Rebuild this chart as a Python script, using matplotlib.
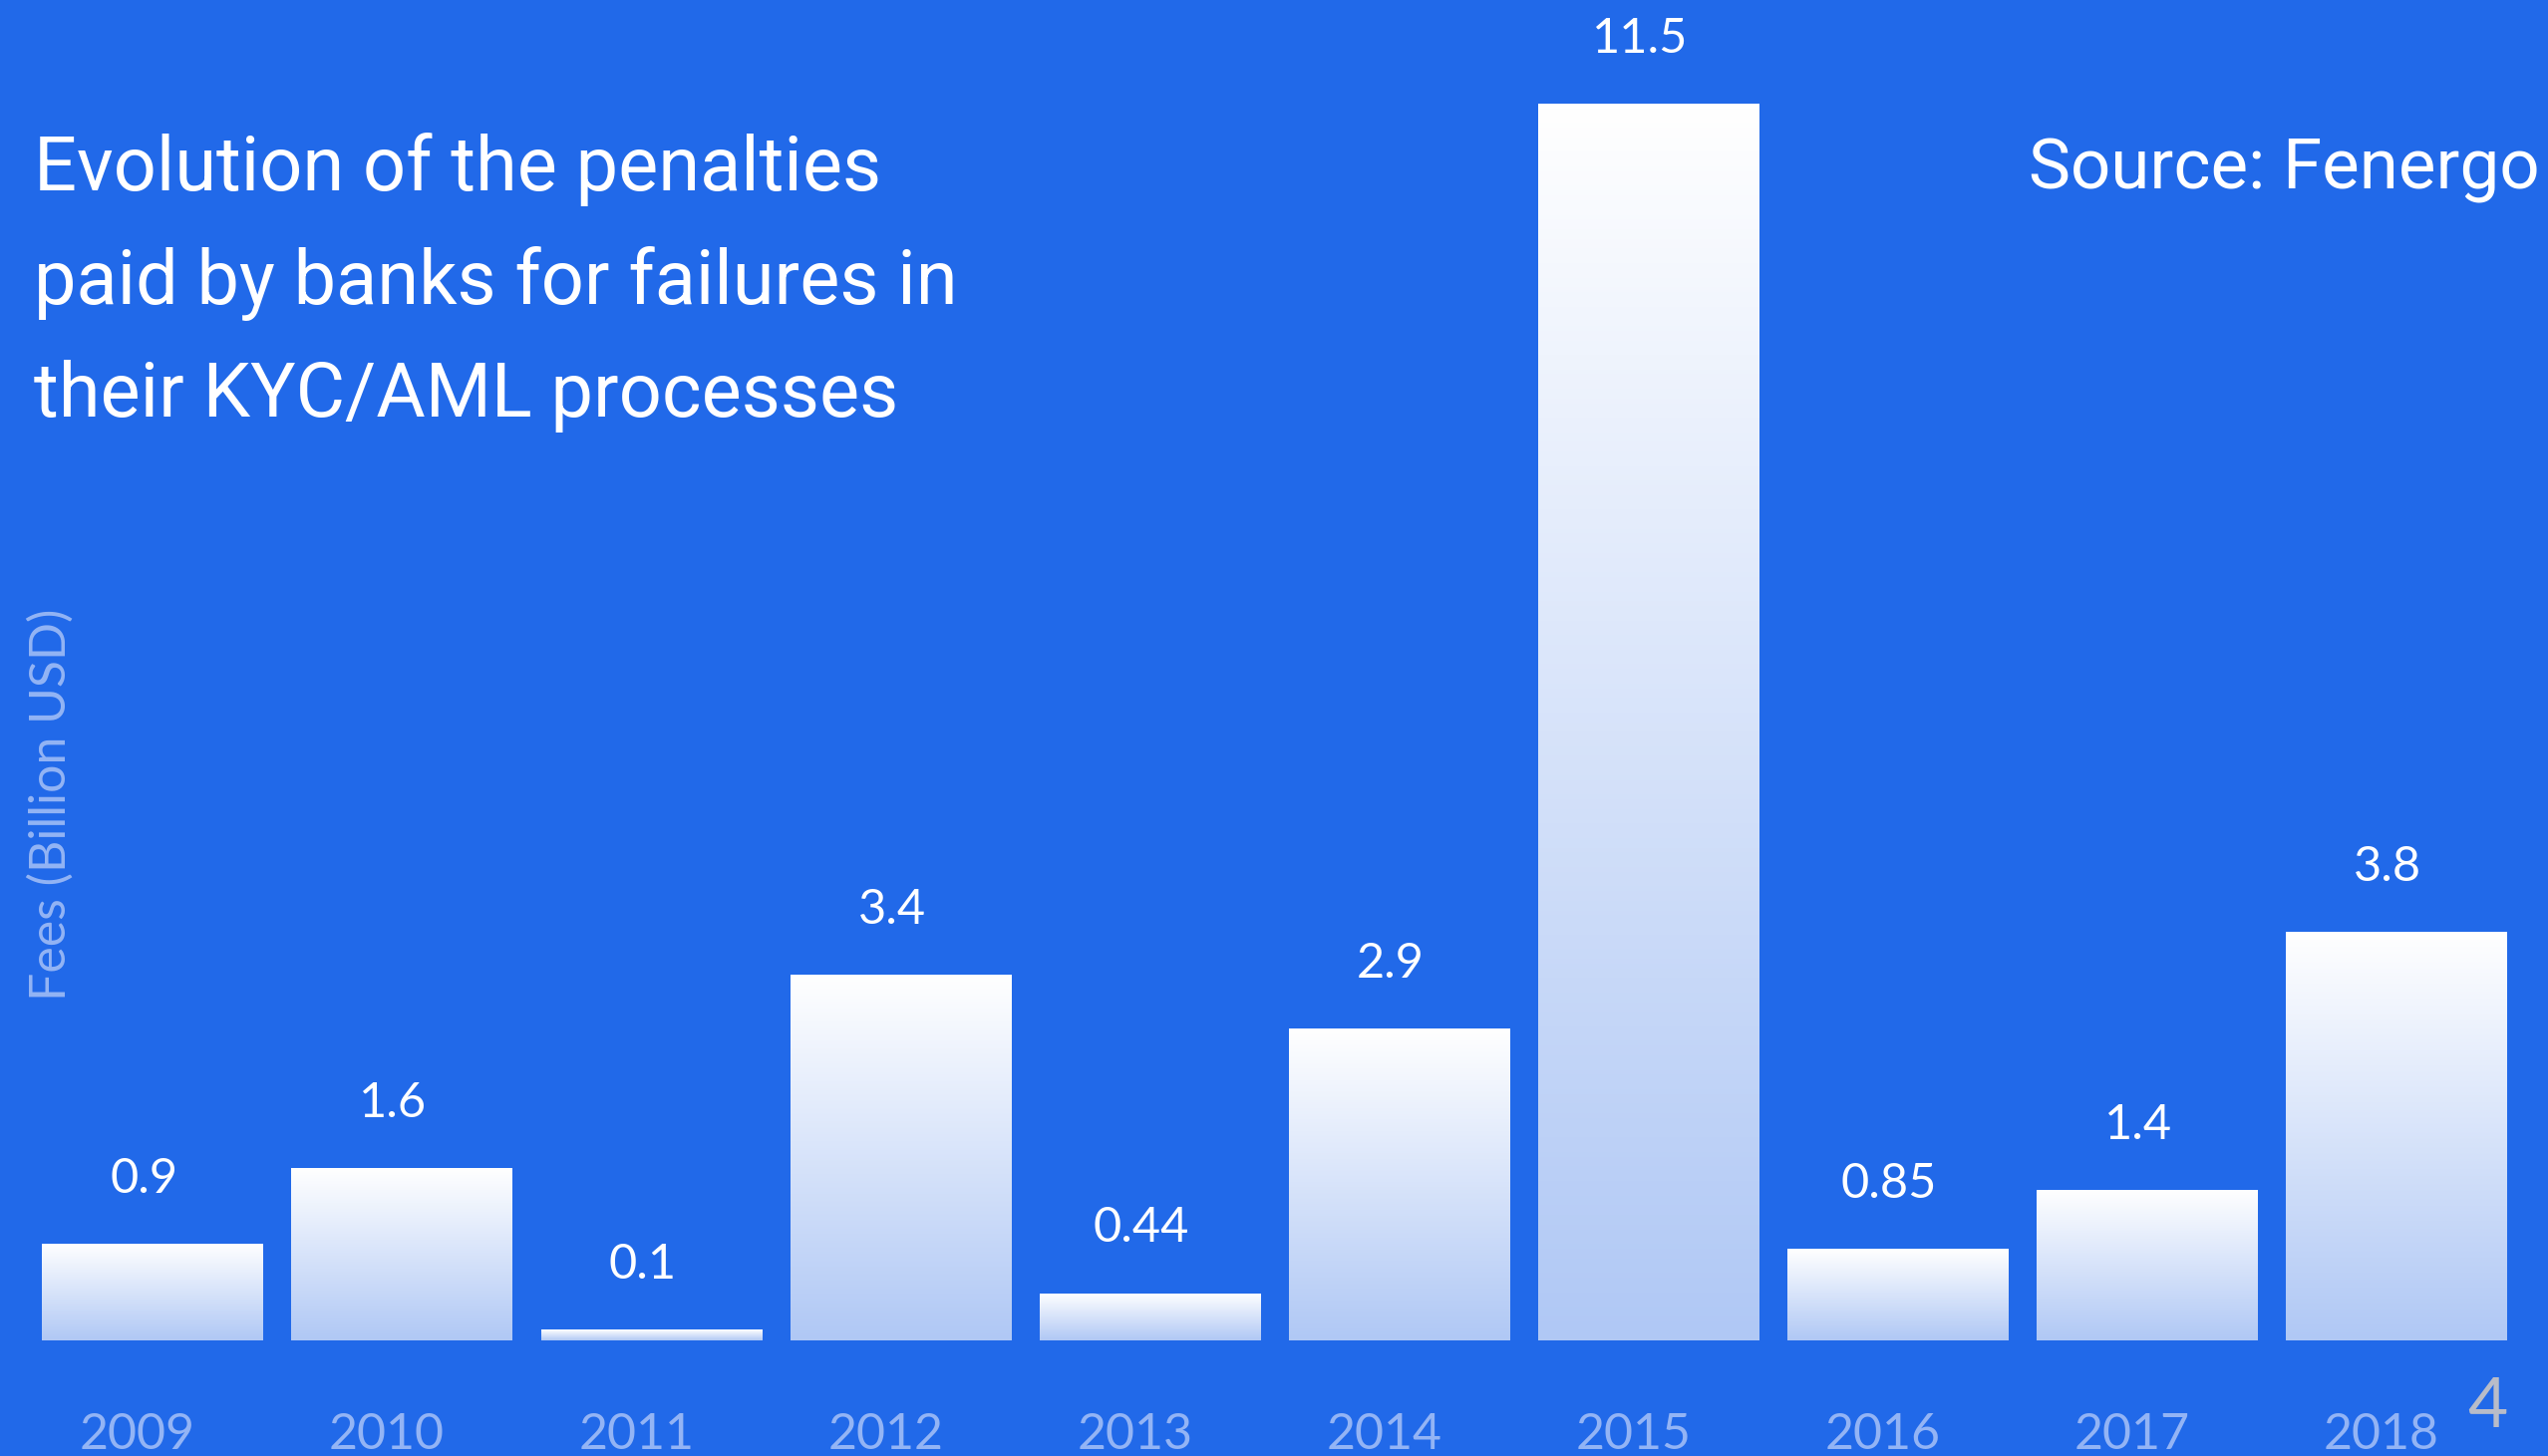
import matplotlib.pyplot as plt
import numpy as np
from matplotlib.colors import LinearSegmentedColormap

# Data
years = ['2009', '2010', '2011', '2012', '2013', '2014', '2015', '2016', '2017', '2018']
fees = [0.9, 1.6, 0.1, 3.4, 0.44, 2.9, 11.5, 0.85, 1.4, 3.8]
fee_labels = ['0.9', '1.6', '0.1', '3.4', '0.44', '2.9', '11.5', '0.85', '1.4', '3.8']
title_lines = ['Evolution of the penalties', 'paid by banks for failures in',
               'their KYC/AML processes']

bg = '#2169e9'
faint = '#93b4f5'
font = 'Lato'
title_font = 'Roboto'

fig = plt.figure(figsize=(25.56, 14.61), dpi=100, facecolor=bg)
# axes: bottom at the bar baseline, spans full width
ax = fig.add_axes([0, 116 / 1461, 1, 1345 / 1461])
ax.set_facecolor(bg)
ax.set_xlim(-153 / 250.1, (2556 - 153) / 250.1)
ax.set_ylim(0, 1345 / 107.9)

x = np.arange(len(years))
bars = ax.bar(x, fees, width=0.885, color='none', edgecolor='none')

# gradient fill, white at the top to light blue at the bottom
cmap = LinearSegmentedColormap.from_list('bar', ['#b0c8f5', '#ffffff'])
grad = np.linspace(0, 1, 256).reshape(-1, 1)
for b in bars:
    x0, y0 = b.get_x(), b.get_y()
    im = ax.imshow(grad, cmap=cmap, origin='lower', aspect='auto',
                   extent=[x0, x0 + b.get_width(), y0, y0 + b.get_height()], zorder=2)
    im.set_clip_path(b)

# value labels above the bars
for xi, v, lab in zip(x, fees, fee_labels):
    ax.annotate(lab, (xi - 0.035, v), xytext=(0, 47), textcoords='offset points',
                ha='center', va='center', color='white', fontsize=35, family=font)

# year labels
ax.set_xticks(x - 0.06)
ax.set_xticklabels(years, color=faint, fontsize=36, family=font)
ax.tick_params(axis='x', length=0, pad=52)
ax.set_yticks([])
for s in ax.spines.values():
    s.set_visible(False)

ax.set_ylabel('Fees (Billion USD)', color=faint, fontsize=36, family=font)
ax.yaxis.set_label_coords(75 / 2556, 0.4)

# title and source
for i, line in enumerate(title_lines):
    fig.text(34 / 2556, 1 - (170 + 114 * i) / 1461, line, color='white',
             fontsize=54.5, family=title_font, ha='left', va='center')
fig.text(2548 / 2556, 1 - 170 / 1461, 'Source: Fenergo', color='white',
         fontsize=51, family=title_font, ha='right', va='center')

# page number
fig.text(2495 / 2556, 1 - 1412 / 1461, '4', color='#b8bcc8', fontsize=50,
         family=font, ha='center', va='center')

plt.savefig('out.png', dpi=100, facecolor=bg)
